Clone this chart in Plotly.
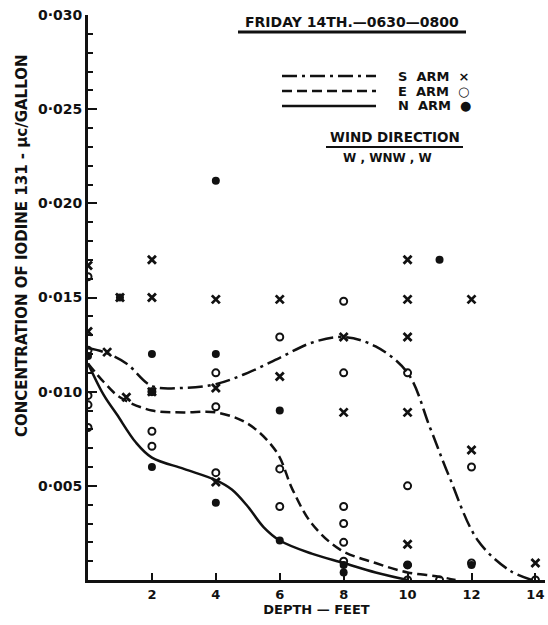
import plotly.graph_objects as go

# ---- data ----
s_curve_x = [0, 0.5, 1.2, 2, 3, 4, 5, 6, 7, 8, 9, 10, 10.7, 11.3, 12.2, 13.2, 13.9]
s_curve_y = [0.0123, 0.0121, 0.0115, 0.0103, 0.0102, 0.0104, 0.0110, 0.0118, 0.0126, 0.0129,
             0.0124, 0.0110, 0.0081, 0.0055, 0.0021, 0.0005, 0.0]
e_curve_x = [0, 0.5, 1, 2, 3, 4, 5, 5.9, 6.4, 7, 7.9, 9, 10, 10.9, 11.5]
e_curve_y = [0.0115, 0.0105, 0.0097, 0.0090, 0.0089, 0.0089, 0.0083, 0.0068, 0.0048, 0.0030,
             0.0016, 0.0009, 0.0004, 0.0002, 0.0]
n_curve_x = [0, 0.5, 0.9, 1.5, 2, 3, 4, 4.5, 5, 5.5, 6, 7, 8, 9, 10]
n_curve_y = [0.0115, 0.0098, 0.0088, 0.0073, 0.0065, 0.0059, 0.0053, 0.0048, 0.0039, 0.0028,
             0.0021, 0.0014, 0.0009, 0.0004, 0.0]

s_pts_x = [0, 0, 1, 1.2, 2, 2, 2, 4, 4, 4, 6, 6, 8, 8, 10, 10, 10, 10, 10, 12, 12, 14, 0.6]
s_pts_y = [0.0167, 0.0132, 0.0150, 0.0097, 0.0170, 0.0150, 0.0100, 0.0149, 0.0102, 0.0052,
           0.0149, 0.0108, 0.0129, 0.0089, 0.0170, 0.0149, 0.0129, 0.0089, 0.0019, 0.0149,
           0.0069, 0.0009, 0.0121]
e_pts_x = [0, 0, 0, 0, 0, 2, 2, 2, 4, 4, 4, 6, 6, 6, 8, 8, 8, 8, 8, 8, 10, 10, 10, 10, 11, 12, 12, 14]
e_pts_y = [0.0161, 0.0122, 0.0098, 0.0093, 0.0081, 0.0100, 0.0079, 0.0071, 0.0110, 0.0092,
           0.0057, 0.0129, 0.0059, 0.0039, 0.0148, 0.0110, 0.0039, 0.0030, 0.0020, 0.0010,
           0.0110, 0.0050, 0.0008, 0.0, 0.0, 0.0060, 0.0009, 0.0]
n_pts_x = [0, 1, 2, 2, 2, 4, 4, 4, 6, 6, 8, 8, 10, 11, 12]
n_pts_y = [0.0119, 0.0150, 0.0120, 0.0100, 0.0060, 0.0212, 0.0120, 0.0041, 0.0090, 0.0021,
           0.0008, 0.0004, 0.0008, 0.0170, 0.0008]

x_ticks = [2, 4, 6, 8, 10, 12, 14]
y_ticks = [0.005, 0.010, 0.015, 0.020, 0.025, 0.030]
y_tick_text = ["0·005", "0·010", "0·015", "0·020", "0·025", "0·030"]

INK = "#111111"
BOLD = dict(family="DejaVu Sans", color=INK, weight="bold")
SDASH = "15px,5px,3px,5px"
EDASH = "10px,5px"

fig = go.Figure()
fig.add_trace(go.Scatter(x=s_curve_x, y=s_curve_y, mode="lines", line_shape="spline",
                         line=dict(color=INK, width=2.5, dash=SDASH), showlegend=False))
fig.add_trace(go.Scatter(x=e_curve_x, y=e_curve_y, mode="lines", line_shape="spline",
                         line=dict(color=INK, width=2.5, dash=EDASH), showlegend=False))
fig.add_trace(go.Scatter(x=n_curve_x, y=n_curve_y, mode="lines", line_shape="spline",
                         line=dict(color=INK, width=2.5), showlegend=False))
fig.add_trace(go.Scatter(x=s_pts_x, y=s_pts_y, mode="markers", showlegend=False,
                         marker=dict(symbol="x-thin", size=8, line=dict(color=INK, width=2.8))))
fig.add_trace(go.Scatter(x=e_pts_x, y=e_pts_y, mode="markers", showlegend=False,
                         marker=dict(symbol="circle-open", size=7, color=INK, line=dict(color=INK, width=2))))
fig.add_trace(go.Scatter(x=n_pts_x, y=n_pts_y, mode="markers", showlegend=False,
                         marker=dict(symbol="circle", size=8, color=INK)))

fig.update_xaxes(range=[0, 14.3], tickvals=x_ticks, ticktext=[str(v) for v in x_ticks],
                 ticks="inside", ticklen=7, tickwidth=2, tickcolor=INK,
                 showline=True, linewidth=3, linecolor=INK, showgrid=False, zeroline=False,
                 tickfont=dict(size=13, **BOLD),
                 title=dict(text="DEPTH — FEET", font=dict(size=13, **BOLD), standoff=4))
fig.update_yaxes(range=[0, 0.030], tickvals=y_ticks, ticktext=y_tick_text,
                 ticks="inside", ticklen=9, tickwidth=2, tickcolor=INK,
                 minor=dict(dtick=0.001, ticks="inside", ticklen=5, tickwidth=1.5, tickcolor=INK),
                 showline=True, linewidth=3, linecolor=INK, showgrid=False, zeroline=False,
                 tickfont=dict(size=14, **BOLD))

def px(x):
    return (x - 88) / 457

def py(y):
    return (580 - y) / 565

def note(text, x, y, size, xanchor="center", angle=0):
    return dict(text=text, x=px(x), y=py(y), xref="paper", yref="paper", xanchor=xanchor,
                yanchor="middle", textangle=angle, showarrow=False, font=dict(size=size, **BOLD))

ann = [
    note("CONCENTRATION OF IODINE 131 - μc/GALLON", 22, 246, 15, angle=-90),
    note("FRIDAY 14TH.—0630—0800", 352, 22, 14),
    note("S  ARM  ×", 396, 76, 13, xanchor="left"),
    note("E  ARM  ○", 396, 91, 13, xanchor="left"),
    note("N  ARM  ●", 396, 106, 13, xanchor="left"),
    note("WIND DIRECTION", 395, 137, 13.5),
    note("W , WNW , W", 387, 158, 12),
]

shapes = []
for dash, yy in [(SDASH, 76), (EDASH, 91), ("solid", 106)]:
    shapes.append(dict(type="line", xref="paper", yref="paper", x0=px(282), x1=px(376),
                       y0=py(yy), y1=py(yy), line=dict(color=INK, width=2.5, dash=dash)))
shapes.append(dict(type="line", xref="paper", yref="paper", x0=px(238), x1=px(466),
                   y0=py(32), y1=py(32), line=dict(color=INK, width=3)))
shapes.append(dict(type="line", xref="paper", yref="paper", x0=px(326), x1=px(463),
                   y0=py(147), y1=py(147), line=dict(color=INK, width=2)))

fig.update_layout(width=548, height=625, margin=dict(l=88, r=3, t=15, b=45),
                  paper_bgcolor="white", plot_bgcolor="white",
                  annotations=ann, shapes=shapes)
fig.write_html("out.html")
